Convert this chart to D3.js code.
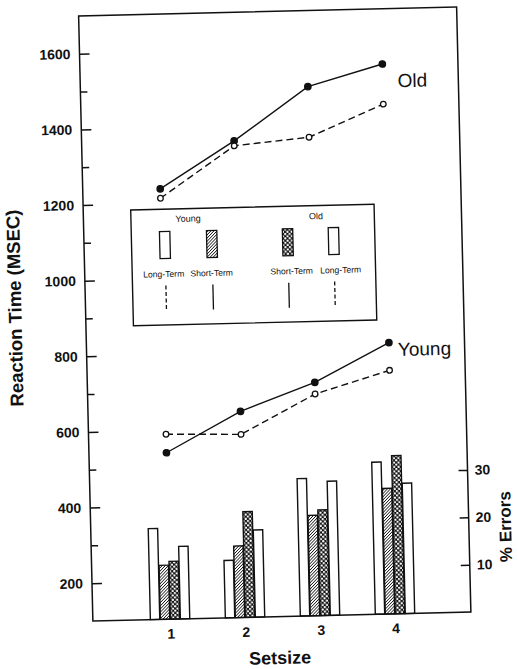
<!DOCTYPE html>
<html>
<head>
<meta charset="utf-8">
<script src="https://cdn.jsdelivr.net/npm/d3@7/dist/d3.min.js"></script>
<style>
  html, body { margin: 0; padding: 0; background: #fff; }
  svg { display: block; }
  text { font-family: "Liberation Sans", Arial, Helvetica, sans-serif; fill: #111; }
</style>
</head>
<body>
<svg id="chart" width="518" height="669"></svg>
<script>
// ---- data -------------------------------------------------------------
const setsizes = [1, 2, 3, 4];

// reaction time (ms)
const rtYoungShort = [540, 645, 717, 817];    // solid, filled dots
const rtYoungLong  = [589, 584, 686, 744];    // dashed, open dots
const rtOldShort   = [1238, 1360, 1499, 1554];
const rtOldLong    = [1213, 1347, 1365, 1448];

// percent errors (bars)
const errYoungLong  = [19.2, 12.1, 29.0, 32.1];
const errYoungShort = [11.4, 15.1, 21.2, 26.5];
const errOldShort   = [12.2, 22.3, 22.3, 33.4];
const errOldLong    = [15.3, 18.4, 28.3, 27.5];

const rtTicks = d3.range(200, 1601, 100);
const rtLabelTicks = [200, 400, 600, 800, 1000, 1200, 1400, 1600];
const errTicks = [10, 20, 30];

const barSeries = [
  { key: "yl", values: errYoungLong,  fill: "#fff" },
  { key: "ys", values: errYoungShort, fill: "url(#hatch)" },
  { key: "os", values: errOldShort,   fill: "url(#check)" },
  { key: "ol", values: errOldLong,    fill: "#fff" }
];

// ---- layout -----------------------------------------------------------
const frame = { left: 85.7, right: 463.8, top: 11.4, bottom: 616.6 };
const svg = d3.select("#chart");

// fill patterns for the short-term bars
const defs = svg.append("defs");
const hatch = defs.append("pattern").attr("id", "hatch")
  .attr("width", 2.2).attr("height", 2.2)
  .attr("patternUnits", "userSpaceOnUse")
  .attr("patternTransform", "rotate(45)");
hatch.append("rect").attr("width", 2.2).attr("height", 2.2).attr("fill", "#fff");
hatch.append("line").attr("x1", 0).attr("y1", 0).attr("x2", 0).attr("y2", 2.2)
  .attr("stroke", "#111").attr("stroke-width", 1.5);

const check = defs.append("pattern").attr("id", "check")
  .attr("width", 4.4).attr("height", 4.4)
  .attr("patternUnits", "userSpaceOnUse");
check.append("rect").attr("width", 4.4).attr("height", 4.4).attr("fill", "#111");
check.append("circle").attr("cx", 1.1).attr("cy", 1.1).attr("r", 1.15).attr("fill", "#fff");
check.append("circle").attr("cx", 3.3).attr("cy", 3.3).attr("r", 1.15).attr("fill", "#fff");

// the whole figure sits with a slight tilt
const g = svg.append("g")
  .attr("transform", `rotate(-1.35, ${(frame.left + frame.right) / 2}, ${(frame.top + frame.bottom) / 2})`);

// ---- scales -----------------------------------------------------------
const x = d3.scaleLinear().domain([1, 4]).range([163.2, 388.2]);
const y = d3.scaleLinear().domain([100, 1700]).range([frame.bottom, frame.top]);
const yErr = d3.scaleLinear().domain([0, 10]).range([frame.bottom, frame.bottom - 47.4]);
const sub = d3.scaleBand().domain(barSeries.map(d => d.key)).range([-20, 20]).padding(0);

// ---- bars -------------------------------------------------------------
barSeries.forEach(s => {
  g.append("g").selectAll("rect")
    .data(setsizes.map((k, i) => ({ k, v: s.values[i] })))
    .join("rect")
    .attr("x", d => x(d.k) + sub(s.key))
    .attr("width", sub.bandwidth() - 0.6)
    .attr("y", d => yErr(d.v))
    .attr("height", d => yErr(0) - yErr(d.v))
    .attr("fill", s.fill)
    .attr("stroke", "#111")
    .attr("stroke-width", 1.4);
});

// ---- frame ------------------------------------------------------------
g.append("rect")
  .attr("x", frame.left).attr("y", frame.top)
  .attr("width", frame.right - frame.left).attr("height", frame.bottom - frame.top)
  .attr("fill", "none").attr("stroke", "#111").attr("stroke-width", 1.5);

// ---- axes -------------------------------------------------------------
const yAxis = d3.axisLeft(y)
  .tickValues(rtTicks)
  .tickSize(-9).tickSizeOuter(0).tickPadding(9)
  .tickFormat(d => rtLabelTicks.includes(d) ? d : "");
const yAxisG = g.append("g").attr("transform", `translate(${frame.left},0)`).call(yAxis);
yAxisG.select(".domain").remove();
yAxisG.selectAll(".tick line")
  .attr("x2", d => rtLabelTicks.includes(d) ? 10 : 7)
  .attr("stroke", "#111").attr("stroke-width", 1.5);
yAxisG.selectAll(".tick text")
  .attr("font-size", 14).attr("font-weight", "bold")
  .attr("font-family", "Liberation Sans, Arial, sans-serif").attr("fill", "#111");

const errAxis = d3.axisRight(yErr)
  .tickValues(errTicks)
  .tickSize(-9).tickSizeOuter(0).tickPadding(7)
  .tickFormat(d3.format("d"));
const errAxisG = g.append("g").attr("transform", `translate(${frame.right},0)`).call(errAxis);
errAxisG.select(".domain").remove();
errAxisG.selectAll(".tick line").attr("stroke", "#111").attr("stroke-width", 1.5);
errAxisG.selectAll(".tick text")
  .attr("font-size", 14).attr("font-weight", "bold")
  .attr("font-family", "Liberation Sans, Arial, sans-serif").attr("fill", "#111");

const xAxis = d3.axisBottom(x)
  .tickValues(setsizes)
  .tickSize(0).tickSizeOuter(0).tickPadding(9.5)
  .tickFormat(d3.format("d"));
const xAxisG = g.append("g").attr("transform", `translate(0,${frame.bottom})`).call(xAxis);
xAxisG.select(".domain").remove();
xAxisG.selectAll(".tick text")
  .attr("font-size", 14).attr("font-weight", "bold")
  .attr("font-family", "Liberation Sans, Arial, sans-serif").attr("fill", "#111");

// axis titles
g.append("text")
  .attr("transform", `translate(21.5,302) rotate(-90)`)
  .attr("text-anchor", "middle")
  .attr("font-size", 18.5).attr("font-weight", "bold")
  .text("Reaction Time (MSEC)");

g.append("text")
  .attr("x", 272).attr("y", 664)
  .attr("text-anchor", "middle")
  .attr("font-size", 18).attr("font-weight", "bold")
  .text("Setsize");

g.append("text")
  .attr("transform", `translate(506,532) rotate(-90)`)
  .attr("text-anchor", "middle")
  .attr("font-size", 17).attr("font-weight", "bold")
  .text("% Errors");

// ---- reaction-time lines ---------------------------------------------
const line = d3.line().x(d => x(d.k)).y(d => y(d.v));
const rtSeries = [
  { values: rtOldShort,   dash: null,  filled: true },
  { values: rtOldLong,    dash: "7,4", filled: false },
  { values: rtYoungShort, dash: null,  filled: true },
  { values: rtYoungLong,  dash: "7,4", filled: false }
];
rtSeries.forEach(s => {
  const pts = setsizes.map((k, i) => ({ k, v: s.values[i] }));
  g.append("path")
    .datum(pts)
    .attr("d", line)
    .attr("fill", "none")
    .attr("stroke", "#111")
    .attr("stroke-width", 1.4)
    .attr("stroke-dasharray", s.dash);
  g.append("g").selectAll("circle")
    .data(pts)
    .join("circle")
    .attr("cx", d => x(d.k))
    .attr("cy", d => y(d.v))
    .attr("r", s.filled ? 3.2 : 2.8)
    .attr("fill", s.filled ? "#111" : "#fff")
    .attr("stroke", "#111")
    .attr("stroke-width", 1.3);
});

g.append("text").attr("x", 403).attr("y", 90.2).attr("font-size", 19).text("Old");
g.append("text").attr("x", 397).attr("y", 359).attr("font-size", 19).text("Young");

// ---- legend -----------------------------------------------------------
const legend = g.append("g");
legend.append("rect")
  .attr("x", 133.2).attr("y", 206.6).attr("width", 243.4).attr("height", 115.8)
  .attr("fill", "#fff").attr("stroke", "#111").attr("stroke-width", 1.4);

legend.append("text").attr("x", 190.3).attr("y", 219.6)
  .attr("text-anchor", "middle").attr("font-size", 9).text("Young");
legend.append("text").attr("x", 318.3).attr("y", 220.2)
  .attr("text-anchor", "middle").attr("font-size", 9).text("Old");

const legendItems = [
  { fill: "#fff",        bx: 166.6, lx: 164.7, label: "Long-Term",  dash: "4,2.5" },
  { fill: "url(#hatch)", bx: 213.6, lx: 212.7, label: "Short-Term", dash: null },
  { fill: "url(#check)", bx: 289.5, lx: 292.7, label: "Short-Term", dash: null },
  { fill: "#fff",        bx: 335.4, lx: 341.7, label: "Long-Term",  dash: "4,2.5" }
];
const li = legend.selectAll("g.item").data(legendItems).join("g").attr("class", "item");
li.append("rect")
  .attr("x", d => d.bx - 5.2).attr("y", 229).attr("width", 10.4).attr("height", 27)
  .attr("fill", d => d.fill).attr("stroke", "#111").attr("stroke-width", 1.3);
li.append("text")
  .attr("x", d => d.lx).attr("y", 274.5)
  .attr("text-anchor", "middle").attr("font-size", 8.6)
  .text(d => d.label);
li.append("line")
  .attr("x1", d => d.bx).attr("x2", d => d.bx)
  .attr("y1", 283).attr("y2", 308)
  .attr("stroke", "#111").attr("stroke-width", 1.3)
  .attr("stroke-dasharray", d => d.dash);
</script>
</body>
</html>
